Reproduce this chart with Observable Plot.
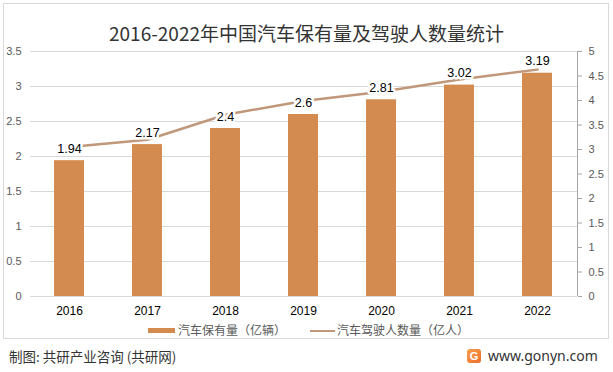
<!DOCTYPE html>
<html><head><meta charset="utf-8">
<script src="https://cdn.jsdelivr.net/npm/d3@7"></script>
<script src="https://cdn.jsdelivr.net/npm/@observablehq/plot@0.6"></script>
<style>
body{margin:0;background:#fff;}
#wrap{position:relative;width:613px;height:372px;overflow:hidden;font-family:"Noto Sans CJK SC","Noto Sans",sans-serif;background:#fff;}
#box{position:absolute;left:3px;top:3px;width:606px;height:336px;border:1px solid #d9d9d9;box-sizing:border-box;}
#chart{position:absolute;left:0;top:0;}
#title{position:absolute;left:0;width:613px;top:19px;text-align:center;font-size:19px;color:#333;line-height:28px;white-space:nowrap;}
.leg{position:absolute;top:321px;font-size:12px;color:#595959;line-height:18px;white-space:nowrap;}
.sw{position:absolute;}
#foot-l{position:absolute;left:9px;top:346px;font-size:13.5px;color:#333;line-height:20px;white-space:nowrap;}
#foot-r{position:absolute;left:488px;top:345px;font-size:14px;color:#333;line-height:22px;font-family:"Noto Sans",sans-serif;white-space:nowrap;}
#logo{position:absolute;left:467px;top:349px;width:14px;height:14px;border-radius:3px;background:linear-gradient(135deg,#f7a24a,#ee6a2c);color:#fff;font:bold 11px "Liberation Sans",sans-serif;text-align:center;line-height:14px;}
</style></head>
<body>
<div id="wrap">
  <div id="box"></div>
  <div id="chart"></div>
  <div id="title">2016-2022年中国汽车保有量及驾驶人数量统计</div>
  <div class="sw" style="left:148px;top:328px;width:27px;height:5px;background:#d38b4f;"></div>
  <div class="leg" style="left:178px;">汽车保有量（亿辆）</div>
  <div class="sw" style="left:310px;top:330px;width:25px;height:2px;background:#c0977a;"></div>
  <div class="leg" style="left:337px;">汽车驾驶人数量（亿人）</div>
  <div id="foot-l">制图: 共研产业咨询 (共研网)</div>
  <div id="logo">G</div>
  <div id="foot-r">www.gonyn.com</div>
</div>
<script>
const years = ["2016","2017","2018","2019","2020","2021","2022"];
const carOwnership = [1.94, 2.17, 2.4, 2.6, 2.81, 3.02, 3.19];
const drivers = [3.05, 3.2, 3.71, 3.99, 4.18, 4.43, 4.63];
const leftTicks = [0, 0.5, 1, 1.5, 2, 2.5, 3, 3.5];
const rightTicks = [0, 0.5, 1, 1.5, 2, 2.5, 3, 3.5, 4, 4.5, 5];

const barColor = "#d38b4f";
const lineColor = "#c0977a";
const k = 3.5 / 5;
const fmt = v => String(+(+v).toFixed(2));

const table = years.map((y, i) => ({year: y, cars: carOwnership[i], drivers: drivers[i]}));

const chart = Plot.plot({
  width: 613, height: 372,
  marginTop: 51, marginBottom: 76, marginLeft: 30, marginRight: 36,
  style: {fontFamily: "'Liberation Sans', Arial, sans-serif", fontSize: "11px", background: "transparent"},
  x: {type: "band", domain: years, paddingInner: 0.61, paddingOuter: 0.305, axis: null, label: null},
  y: {domain: [0, 3.5], axis: null, label: null},
  marks: [
    Plot.gridY(leftTicks, {stroke: "#d9d9d9", strokeOpacity: 1}),
    Plot.axisY(leftTicks, {anchor: "left", label: null, tickSize: 0, tickPadding: 9, tickFormat: fmt, color: "#595959", fontSize: 11}),
    Plot.axisY(rightTicks.map(v => v * k), {anchor: "right", label: null, tickSize: 4, tickPadding: 7, tickFormat: d => fmt(d / k), color: "#595959", stroke: "#a6a6a6", fontSize: 11}),
    Plot.barY(table, {x: "year", y: "cars", fill: barColor}),
    Plot.line(table, {x: "year", y: d => d.drivers * k, stroke: lineColor, strokeWidth: 2.5}),
    Plot.text(table, {x: "year", y: "cars", text: d => String(d.cars), dy: -12, fontSize: 12.5, fill: "#000", stroke: "#fff", strokeWidth: 5, paintOrder: "stroke"}),
    Plot.axisX({label: null, tickSize: 0, tickPadding: 10, fontSize: 12, color: "#000"}),
    Plot.ruleY([0], {stroke: "#d9d9d9"})
  ]
});
document.getElementById("chart").appendChild(chart);
// right axis spine, positioned from the plot's own scales
const xr = chart.scale("x").range, yr = chart.scale("y").range;
d3.select(chart).append("line")
  .attr("x1", xr[1] + 0.5).attr("x2", xr[1] + 0.5)
  .attr("y1", yr[0]).attr("y2", yr[1])
  .attr("stroke", "#a6a6a6");
</script>
</body></html>
